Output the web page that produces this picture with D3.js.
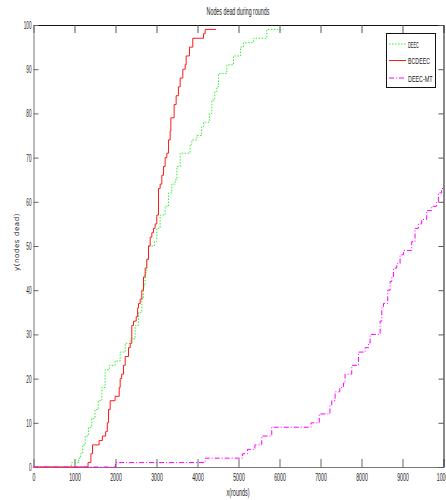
<!DOCTYPE html>
<html><head><meta charset="utf-8">
<script src="https://cdn.jsdelivr.net/npm/d3@7"></script>
<style>
body{margin:0;background:#fff;}
svg text{font-family:"Liberation Sans","DejaVu Sans",sans-serif;fill:#222;}
</style></head>
<body><svg id="chart" width="446" height="500"></svg>
<script>
const title = "Nodes dead during rounds";
const xLabel = "x(rounds)";
const yLabel = "y(nodes dead)";
const xTicks = [0,1000,2000,3000,4000,5000,6000,7000,8000,9000,10000];
const yTicks = [0,10,20,30,40,50,60,70,80,90,100];
const seriesNames = ["DEEC","BCDEEC","DEEC-MT"];

// [round, nodes dead] change points (step series)
const deec = [[0,0],[930,1],[1100,2],[1150,3],[1200,5],[1260,7],[1340,9],[1420,11],[1500,13],[1580,15],[1667,18],[1748,22],[1850,23],[1992,24],[2114,26],[2236,28],[2358,29],[2480,32],[2560,35],[2642,38],[2680,41],[2720,44],[2760,47],[2805,50],[2950,51],[3008,54],[3089,57],[3211,59],[3292,62],[3374,64],[3455,65],[3496,68],[3577,71],[3820,73],[3862,74],[3984,75],[4100,77],[4146,78],[4290,80],[4349,83],[4420,85],[4471,86],[4512,89],[4715,91],[4878,93],[5050,95],[5120,96],[5364,97],[5690,99],[6096,99]];
const bcdeec = [[0,0],[1330,1],[1400,3],[1440,5],[1600,6],[1680,7],[1760,8],[1800,10],[1830,13],[1870,15],[1990,16],[2090,18],[2114,20],[2150,21],[2195,23],[2236,25],[2317,27],[2358,28],[2398,32],[2439,33],[2505,34],[2540,36],[2561,37],[2602,38],[2642,40],[2683,43],[2724,45],[2764,47],[2805,50],[2845,52],[2886,53],[2927,54],[2967,55],[3008,57],[3049,63],[3089,64],[3130,66],[3170,68],[3211,70],[3252,71],[3292,74],[3333,76],[3350,79],[3430,82],[3479,84],[3535,86],[3577,88],[3642,90],[3700,91],[3723,93],[3804,95],[3885,97],[4146,98],[4186,99],[4450,99]];
const deecmt = [[0,0],[2000,1],[4186,2],[5100,3],[5220,4],[5400,5],[5567,7],[5811,9],[6770,10],[6970,12],[7230,14],[7275,15],[7356,17],[7470,18],[7560,19],[7600,21],[7762,23],[7925,26],[8088,27],[8170,28],[8210,30],[8454,33],[8494,36],[8535,37],[8640,40],[8698,42],[8740,43],[8779,45],[8860,46],[8941,48],[9022,49],[9225,51],[9306,54],[9388,55],[9469,56],[9591,58],[9713,59],[9834,60],[9875,62],[9956,63],[10000,63]];

const svg = d3.select("#chart");
const L = 33.5, R = 443.5, T = 25, B = 467;
const x = d3.scaleLinear().domain([0,10000]).range([L,R]);
const y = d3.scaleLinear().domain([0,100]).range([B,T]);

const styles = [
  {data:deec, color:"#33ee33", dash:"1.5,1.5", w:1},
  {data:bcdeec, color:"#ff1a1a", dash:null, w:1},
  {data:deecmt, color:"#ff00ff", dash:"5,2,1,2", w:1}
];

// compress text horizontally to a target width using a scale transform
function squeezeTo(t, targetW){
  const node = t.node();
  const w = node.getComputedTextLength();
  if(!w) return;
  const s = targetW / w;
  const x0 = +t.attr("x") || 0;
  const y0 = +t.attr("y") || 0;
  t.attr("x", x0 / s).attr("transform", (t.attr("transform")||"") + ` scale(${s},1)`);
}

// axes
const gx = svg.append("g").attr("transform",`translate(0,${B})`)
  .call(d3.axisBottom(x).tickValues(xTicks).tickFormat(d3.format("d")).tickSize(-8).tickSizeOuter(0).tickPadding(6));
const gxt = svg.append("g").attr("transform",`translate(0,${T})`)
  .call(d3.axisTop(x).tickValues(xTicks).tickFormat("").tickSize(-8).tickSizeOuter(0));
const gy = svg.append("g").attr("transform",`translate(${L},0)`)
  .call(d3.axisLeft(y).tickValues(yTicks).tickSize(-5).tickSizeOuter(0).tickPadding(2));
const gyr = svg.append("g").attr("transform",`translate(${R},0)`)
  .call(d3.axisRight(y).tickValues(yTicks).tickFormat("").tickSize(-5).tickSizeOuter(0));
[gx,gy].forEach(g=>{g.select(".domain").attr("stroke","#777");g.selectAll(".tick line").attr("stroke","#666");g.selectAll("text").style("font-size","11px").attr("fill","#333");});
[gxt,gyr].forEach(g=>{g.select(".domain").attr("stroke","#111");g.selectAll(".tick line").attr("stroke","#555");});
gx.selectAll("text").attr("dy","0.71em");
gx.selectAll("text").each(function(){ const t=d3.select(this); squeezeTo(t, t.text().length*2.9); });
gy.selectAll("text").each(function(){ const t=d3.select(this); squeezeTo(t, t.text().length*2.6); });

const line = d3.line().x(d=>x(d[0])).y(d=>y(d[1])).curve(d3.curveStepAfter);
styles.forEach(s=>{
  svg.append("path").attr("d",line(s.data)).attr("fill","none")
    .attr("stroke",s.color).attr("stroke-width",s.w)
    .attr("stroke-dasharray",s.dash);
});

// title & labels
const tt = svg.append("text").attr("transform","translate(238,14.5)").attr("text-anchor","middle").style("font-size","10px").text(title);
squeezeTo(tt, 63);
const xl = svg.append("text").attr("transform","translate(238,495.5)").attr("text-anchor","middle").style("font-size","10px").text(xLabel);
squeezeTo(xl, 23);
svg.append("text").attr("transform","translate(19,242) rotate(-90)").attr("text-anchor","middle")
  .style("font-family","'DejaVu Sans',sans-serif").style("font-size","7px").style("letter-spacing","0.6px").attr("fill","#444").text(yLabel);

// legend
const lg = svg.append("g");
lg.append("rect").attr("x",386.5).attr("y",33.5).attr("width",49).attr("height",54).attr("fill","#fff").attr("stroke","#111").attr("stroke-width",1);
const ly = [44,60.5,78];
const lw = [11,22,24.5];
styles.forEach((s,i)=>{
  lg.append("line").attr("x1",389).attr("x2",406).attr("y1",ly[i]).attr("y2",ly[i])
    .attr("stroke",s.color).attr("stroke-width",s.w).attr("stroke-dasharray",s.dash);
  const t = lg.append("text").attr("transform",`translate(408,${ly[i]+3.8})`).style("font-size","9.5px").text(seriesNames[i]);
  squeezeTo(t, lw[i]);
});
</script></body></html>
